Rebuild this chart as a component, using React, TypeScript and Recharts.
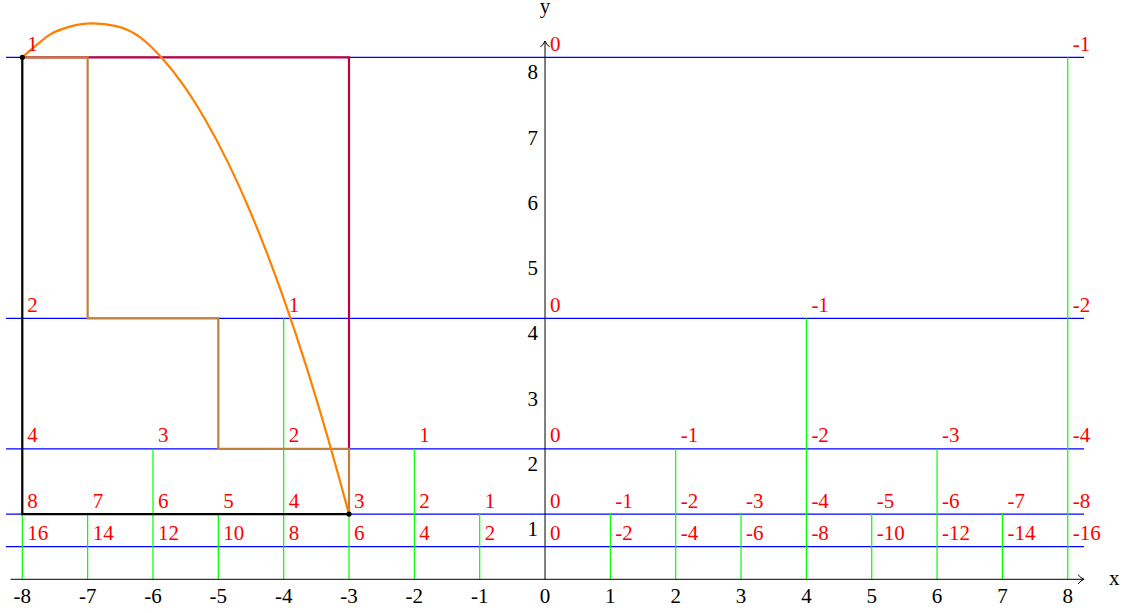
import React from 'react';
import { ComposedChart, Line, Scatter, XAxis, YAxis } from 'recharts';

const W = 1125;
const H = 613;
const X_DOMAIN: [number, number] = [-8.3413, 8.8763];
const Y_DOMAIN: [number, number] = [-0.5164, 8.8782];

// axis ticks
const xTicks = [-8, -7, -6, -5, -4, -3, -2, -1, 0, 1, 2, 3, 4, 5, 6, 7, 8];
const xTickLabels = ['-8', '-7', '-6', '-5', '-4', '-3', '-2', '-1', '0', '1', '2', '3', '4', '5', '6', '7', '8'];
const yTicks = [1, 2, 3, 4, 5, 6, 7, 8];
const yTickLabels = ['1', '2', '3', '4', '5', '6', '7', '8'];

// axis extents
const xAxisRange = [-8.18, 8.25];
const yAxisRange = [0, 8.25];

// horizontal blue levels
const levels = [8, 4, 2, 1, 0.5];
const levelRange = [-8.25, 8.25];

// green verticals
const greenX = [-8, -7, -6, -5, -4, -3, -2, -1, 1, 2, 3, 4, 5, 6, 7, 8];
const greenTop = [8, 1, 2, 1, 4, 1, 2, 1, 1, 2, 1, 4, 1, 2, 1, 8];

// red labels per level
const row8X = [-8, 0, 8];
const row8Labels = ['1', '0', '-1'];
const row4X = [-8, -4, 0, 4, 8];
const row4Labels = ['2', '1', '0', '-1', '-2'];
const row2X = [-8, -6, -4, -2, 0, 2, 4, 6, 8];
const row2Labels = ['4', '3', '2', '1', '0', '-1', '-2', '-3', '-4'];
const row1X = [-8, -7, -6, -5, -4, -3, -2, -1, 0, 1, 2, 3, 4, 5, 6, 7, 8];
const row1Labels = ['8', '7', '6', '5', '4', '3', '2', '1', '0', '-1', '-2', '-3', '-4', '-5', '-6', '-7', '-8'];
const rowHalfX = [-8, -7, -6, -5, -4, -3, -2, -1, 0, 1, 2, 3, 4, 5, 6, 7, 8];
const rowHalfLabels = ['16', '14', '12', '10', '8', '6', '4', '2', '0', '-2', '-4', '-6', '-8', '-10', '-12', '-14', '-16'];

// paths
const blackPath = [{ x: -8, y: 8 }, { x: -8, y: 1 }, { x: -3, y: 1 }];
const purplePath = [{ x: -8, y: 8 }, { x: -3, y: 8 }, { x: -3, y: 2 }];
const brownPath = [
  { x: -8, y: 8 }, { x: -7, y: 8 }, { x: -7, y: 4 }, { x: -5, y: 4 },
  { x: -5, y: 2 }, { x: -3, y: 2 }, { x: -3, y: 1 },
];
const curveX = [-8, -7.771, -7.572, -7.312, -6.929, -6.547, -6.195, -5.859, -5.537, -5.201, -4.849, -4.512, -4.176, -3.824, -3.472, -3.136, -3];
const curveY = [8, 8.199, 8.352, 8.459, 8.52, 8.474, 8.306, 7.985, 7.578, 7.047, 6.382, 5.637, 4.788, 3.787, 2.674, 1.499, 1];
const dots = [{ x: -8, y: 8 }, { x: -3, y: 1 }];

const FONT = "'Liberation Serif', 'DejaVu Serif', serif";
const FS = 21;

const BLUE = '#0000ff';
const GREEN = '#00ff00';
const RED = '#ff0000';
const ORANGE = '#ff8000';
const BROWN = '#bf8040';
const PURPLE = '#bf0040';

const redShape = (p: any) => (
  <text x={p.cx + 5} y={p.cy - 6.5} fill={RED} fontSize={FS} fontFamily={FONT}>
    {p.payload.label}
  </text>
);
const xTickShape = (p: any) => (
  <text x={p.cx} y={p.cy + 24} fill="#000" fontSize={FS} fontFamily={FONT} textAnchor="middle">
    {p.payload.label}
  </text>
);
const yTickShape = (p: any) => (
  <text x={p.cx - 7} y={p.cy + 22} fill="#000" fontSize={FS} fontFamily={FONT} textAnchor="end">
    {p.payload.label}
  </text>
);
const xArrowShape = (p: any) => (
  <g>
    <path d={`M${p.cx - 6},${p.cy - 4.5} Q${p.cx - 3},${p.cy - 1} ${p.cx},${p.cy} Q${p.cx - 3},${p.cy + 1} ${p.cx - 6},${p.cy + 4.5}`} stroke="#000" strokeWidth={1} fill="none" />
    <text x={p.cx + 25} y={p.cy + 6} fill="#000" fontSize={FS} fontFamily={FONT}>x</text>
  </g>
);
const yArrowShape = (p: any) => (
  <g>
    <path d={`M${p.cx - 4.5},${p.cy + 6} Q${p.cx - 1},${p.cy + 3} ${p.cx},${p.cy} Q${p.cx + 1},${p.cy + 3} ${p.cx + 4.5},${p.cy + 6}`} stroke="#000" strokeWidth={1} fill="none" />
    <text x={p.cx} y={p.cy - 28} fill="#000" fontSize={FS} fontFamily={FONT} textAnchor="middle">y</text>
  </g>
);
const dotShape = (p: any) => <circle cx={p.cx} cy={p.cy} r={2.6} fill="#000" />;

const rowData = (xs: number[], labels: string[], y: number) => xs.map((x, i) => ({ x, y, label: labels[i] }));

// gap-separated segment lists (a null value breaks the line)
const blueSegs = levels.flatMap((lv) => [
  { x: levelRange[0], y: lv },
  { x: levelRange[1], y: lv },
  { x: levelRange[1], y: null },
]);
const greenSegs = greenX.flatMap((gx, i) => [
  { x: gx, y: 0 },
  { x: gx, y: greenTop[i] },
  { x: gx, y: null },
]);
const axisSegs = [
  { x: xAxisRange[0], y: 0 },
  { x: xAxisRange[1], y: 0 },
  { x: xAxisRange[1], y: null },
  { x: 0, y: yAxisRange[0] },
  { x: 0, y: yAxisRange[1] },
];

export default function App() {
  const curve = curveX.map((x, i) => ({ x, y: curveY[i] }));
  return (
    <div style={{ position: 'absolute', left: 0, top: 0, width: W, height: H, background: '#fff' }}>
      <ComposedChart width={W} height={H} margin={{ top: 0, right: 0, bottom: 0, left: 0 }}>
        <XAxis type="number" dataKey="x" domain={X_DOMAIN} allowDataOverflow hide />
        <YAxis type="number" dataKey="y" domain={Y_DOMAIN} allowDataOverflow hide />

        <Line data={blueSegs} dataKey="y" type="linear" stroke={BLUE} strokeWidth={1.3} dot={false} activeDot={false} connectNulls={false} isAnimationActive={false} />
        <Line data={greenSegs} dataKey="y" type="linear" stroke={GREEN} strokeWidth={1.2} dot={false} activeDot={false} connectNulls={false} isAnimationActive={false} />
        <Line data={axisSegs} dataKey="y" type="linear" stroke="#000" strokeWidth={1} dot={false} activeDot={false} connectNulls={false} isAnimationActive={false} />

        <Line data={blackPath} dataKey="y" type="linear" stroke="#000" strokeWidth={2.2} dot={false} activeDot={false} isAnimationActive={false} />
        <Line data={purplePath} dataKey="y" type="linear" stroke={PURPLE} strokeWidth={2.2} dot={false} activeDot={false} isAnimationActive={false} />
        <Line data={brownPath} dataKey="y" type="linear" stroke={BROWN} strokeWidth={2.2} dot={false} activeDot={false} isAnimationActive={false} />
        <Line data={curve} dataKey="y" type="monotone" stroke={ORANGE} strokeWidth={2.2} dot={false} activeDot={false} isAnimationActive={false} />

        <Scatter data={dots} shape={dotShape} isAnimationActive={false} />
        <Scatter data={[{ x: xAxisRange[1], y: 0 }]} shape={xArrowShape} isAnimationActive={false} />
        <Scatter data={[{ x: 0, y: yAxisRange[1] }]} shape={yArrowShape} isAnimationActive={false} />
        <Scatter data={xTicks.map((x, i) => ({ x, y: 0, label: xTickLabels[i] }))} shape={xTickShape} isAnimationActive={false} />
        <Scatter data={yTicks.map((y, i) => ({ x: 0, y, label: yTickLabels[i] }))} shape={yTickShape} isAnimationActive={false} />

        <Scatter data={rowData(row8X, row8Labels, 8)} shape={redShape} isAnimationActive={false} />
        <Scatter data={rowData(row4X, row4Labels, 4)} shape={redShape} isAnimationActive={false} />
        <Scatter data={rowData(row2X, row2Labels, 2)} shape={redShape} isAnimationActive={false} />
        <Scatter data={rowData(row1X, row1Labels, 1)} shape={redShape} isAnimationActive={false} />
        <Scatter data={rowData(rowHalfX, rowHalfLabels, 0.5)} shape={redShape} isAnimationActive={false} />
      </ComposedChart>
    </div>
  );
}
